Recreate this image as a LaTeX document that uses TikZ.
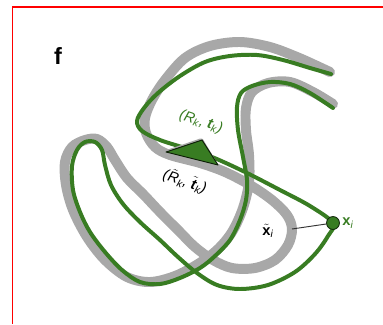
\documentclass[tikz,border=0pt]{standalone}
\usepackage{amsmath}
\usepackage{fontspec}
\setmainfont{Liberation Sans}
\usetikzlibrary{positioning}

\definecolor{fitgreen}{RGB}{56,124,34}
\definecolor{modelgray}{RGB}{168,168,168}
\newcommand{\tvec}{\textbf{\textit{t}}}

\begin{document}
\begin{tikzpicture}[x=0.3mm, y=-0.3mm,
    model/.style={modelgray, line width=8.5pt, line cap=round, line join=round},
    fit/.style={fitgreen, line width=3.4pt, line cap=round, line join=round},
    lbl/.style={inner sep=0pt, font=\fontsize{12.5}{14}\selectfont}]

    \useasboundingbox (0,0) rectangle (383,324);
    \draw[red, line width=1.7pt] (12.5,324) -- (12.5,6.5) -- (383,6.5);

    \node[font=\fontsize{20}{22}\selectfont\bfseries] (panel) at (58,56) {f};

    % reference curve
    \draw[model] plot[smooth, tension=0.55] coordinates {
        (330,72) (315,65) (297,57) (270,47) (240,42) (210,46) (185,58)
        (165,80) (152,100) (145,118) (146,133) (155,147) (170,155)
        (200,163) (225,172) (250,185) (272,200) (287,215) (292,229)
        (288,245) (275,260) (255,268) (232,268) (213,260) (195,247)
        (178,230) (160,212) (143,194) (127,178) (115,160) (107,147)
        (97,139) (85,140) (72,147) (65,162) (66,185) (73,210) (87,237)
        (105,260) (127,277) (150,282) (175,276) (198,264) (217,250)
        (232,232) (243,208) (249,182) (249,155) (246,130) (246,108)
        (252,92) (268,83) (290,82) (313,92) (333,104)};

    % aligned curve
    \draw[fit] plot[smooth, tension=0.55] coordinates {
        (331,74) (310,68) (283,60) (257,55) (230,56) (205,62) (180,76)
        (158,93) (144,108) (137,121) (142,131) (160,140) (185,148)
        (212,157) (245,172) (280,190) (310,206) (333,223)
        (328,236) (315,254) (295,272) (268,285) (240,289) (217,285)
        (197,273) (178,257) (160,240) (140,222) (123,204) (111,185)
        (105,165) (102,150) (95,142) (85,142) (77,150) (72,166)
        (73,190) (80,212) (90,232) (105,252) (122,270) (140,282)
        (160,284) (180,278) (200,268) (215,256) (230,240) (240,220)
        (246,200) (247,180) (243,157) (238,130) (237,107) (241,93)
        (252,86) (270,82) (290,84) (310,93) (333,108)};

    % pose triangle
    \draw[modelgray, line width=4.5pt, line join=round] (163,154) -- (201,141) -- (217,168) -- cycle;
    \filldraw[fill=fitgreen, draw=black!75!fitgreen, line width=0.8pt, line join=round]
        (166,152) -- (202,140) -- (218,165) -- cycle;

    \node[lbl, text=fitgreen, rotate=-18] (pose) at (201,122)
        {\itshape (R\textsubscript{k}, \tvec\textsubscript{k})};
    \node[lbl, rotate=-18] (posetilde) at (185,181)
        {\itshape ($\tilde{\text{\itshape R}}$\textsubscript{k}, $\tilde{\text{\tvec}}$\textsubscript{k})};

    % correspondence
    \coordinate (xt) at (292,229);
    \node[circle, fill=fitgreen, draw=black!70!fitgreen, line width=0.7pt,
          minimum size=11pt, inner sep=0pt] (xi) at (333,223) {};
    \draw[black!80, line width=0.8pt] (xt) -- (xi);

    \node[lbl] (xtlbl) at (268,231) {$\tilde{\text{\bfseries x}}$\textsubscript{\itshape i}};
    \node[lbl, text=fitgreen, right=2pt of xi] (xilbl) {\textbf{x}\textsubscript{\itshape i}};

\end{tikzpicture}
\end{document}
